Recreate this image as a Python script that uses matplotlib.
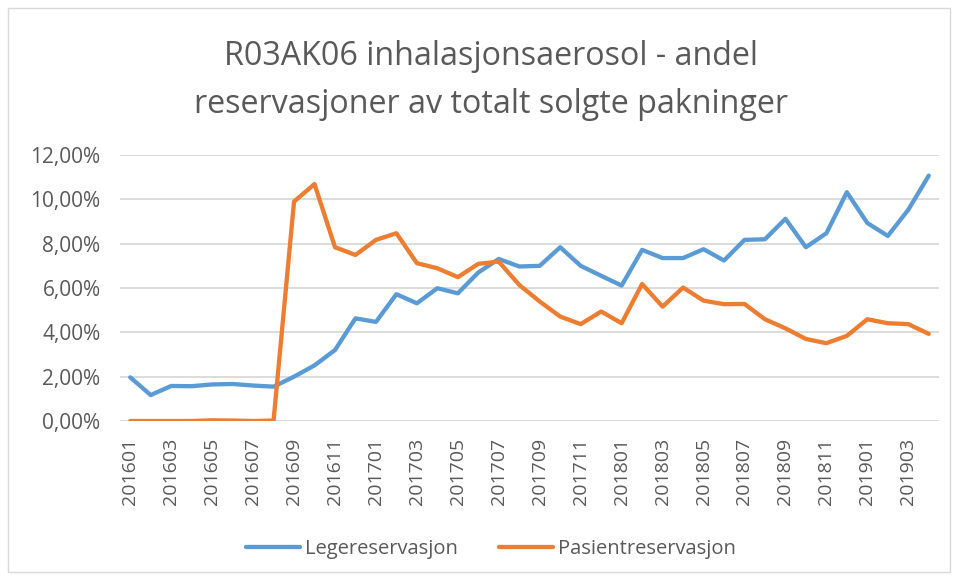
import matplotlib
matplotlib.use("Agg")
import matplotlib.pyplot as plt
from matplotlib.patches import Rectangle
from matplotlib.ticker import FuncFormatter

# months 201601 .. 201904
periods = [f"{y}{m:02d}" for y in (2016, 2017, 2018, 2019) for m in range(1, 13)][:40]

lege = [1.97, 1.17, 1.58, 1.57, 1.65, 1.67, 1.60, 1.55, 2.00, 2.51,
        3.20, 4.63, 4.47, 5.72, 5.31, 5.99, 5.76, 6.70, 7.31, 6.97,
        7.00, 7.84, 7.00, 6.55, 6.11, 7.72, 7.35, 7.35, 7.75, 7.24,
        8.17, 8.20, 9.12, 7.84, 8.47, 10.32, 8.93, 8.35, 9.53, 11.07]

pasient = [0.00, 0.00, 0.00, 0.00, 0.03, 0.02, 0.00, 0.02, 9.90, 10.69,
           7.84, 7.49, 8.17, 8.47, 7.12, 6.89, 6.49, 7.09, 7.19, 6.14,
           5.39, 4.71, 4.37, 4.94, 4.41, 6.18, 5.16, 6.02, 5.43, 5.27,
           5.28, 4.59, 4.18, 3.70, 3.51, 3.84, 4.59, 4.41, 4.37, 3.93]

title_lines = ["R03AK06 inhalasjonsaerosol - andel",
               "reservasjoner av totalt solgte pakninger"]

plt.rcParams["font.family"] = ["Open Sans", "DejaVu Sans"]
grey = "#595959"

fig = plt.figure(figsize=(9.58, 5.8), dpi=100)
ax = fig.add_axes([120 / 958, 1 - 421 / 580, 819 / 958, 266 / 580])

x = list(range(len(periods)))
ax.plot(x, [v / 100 for v in lege], color="#5B9BD5", lw=3.1,
        solid_joinstyle="round", solid_capstyle="round", label="Legereservasjon")
ax.plot(x, [v / 100 for v in pasient], color="#ED7D31", lw=3.1,
        solid_joinstyle="round", solid_capstyle="round", label="Pasientreservasjon")

ax.set_xlim(-0.5, len(periods) - 0.5)
ax.set_ylim(0, 0.12)
ax.set_yticks([i * 0.02 for i in range(7)])
ax.yaxis.set_major_formatter(FuncFormatter(lambda v, p: f"{v * 100:.2f}%".replace(".", ",")))
ax.set_xticks(x[::2])
ax.set_xticklabels(periods[::2], rotation=90)

ax.grid(axis="y", color="#D9D9D9", lw=1.3)
ax.set_axisbelow(True)
for s in ax.spines.values():
    s.set_visible(False)
ax.tick_params(length=0, colors=grey)
ax.tick_params(axis="y", labelsize=15, pad=14)
ax.tick_params(axis="x", labelsize=14, pad=12)

for line, yb in zip(title_lines, (65, 113)):
    fig.text(491 / 958, 1 - yb / 580, line, ha="center", va="baseline",
             fontsize=23.2, color=grey)

fig.legend(loc="center", bbox_to_anchor=(491 / 958, 1 - 549 / 580), ncol=2,
           frameon=False, fontsize=14.5, labelcolor=grey, handlelength=2.7,
           columnspacing=2.0, handletextpad=0.25)

fig.patches.append(Rectangle((8 / 958, 8 / 580), 942 / 958, 564 / 580,
                             transform=fig.transFigure, fill=False,
                             edgecolor="#D9D9D9", lw=1))

fig.savefig("out.png", dpi=100)
